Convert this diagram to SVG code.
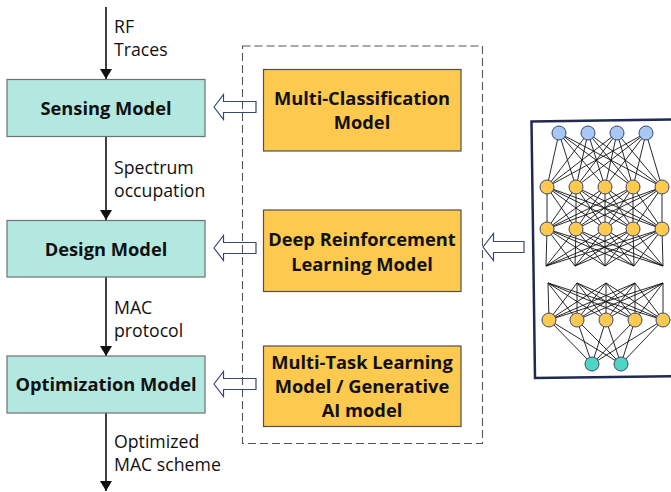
<svg xmlns="http://www.w3.org/2000/svg" width="671" height="492" viewBox="0 0 671 492">
<style>
text{font-family:"Open Sans","Noto Sans","Liberation Sans",sans-serif;fill:#111}
.lbl{font-size:17.7px}
.bold{font-size:18.3px;font-weight:bold}
.stage{fill:#B3E8E0;stroke:#707070;stroke-width:1.2}
.ml{fill:#FDC94F;stroke:#505050;stroke-width:1.2}
.flow{stroke:#111;stroke-width:1.6;fill:none}
.blk{fill:#fff;stroke:#3A4674;stroke-width:1.2}
.net line{stroke:#111;stroke-width:0.9}
.in{fill:#A8C8F4;stroke:#3A4674;stroke-width:1}
.hid{fill:#FDC94F;stroke:#3A4674;stroke-width:1}
.out{fill:#4ED6C3;stroke:#3A4674;stroke-width:1}
</style>
<defs>
<marker id="ah" markerWidth="10" markerHeight="12" refX="10" refY="6" orient="auto" markerUnits="userSpaceOnUse">
<path d="M0,0 L10,6 L0,12 Z" fill="#111"/>
</marker>
</defs>

<g id="connectors">
<line class="flow" x1="106" y1="7" x2="106" y2="79" marker-end="url(#ah)"/>
<line class="flow" x1="106" y1="136" x2="106" y2="220" marker-end="url(#ah)"/>
<line class="flow" x1="106" y1="277" x2="106" y2="356" marker-end="url(#ah)"/>
<line class="flow" x1="106" y1="413" x2="106" y2="491" marker-end="url(#ah)"/>
<text class="lbl" x="114" y="33">RF</text>
<text class="lbl" x="114" y="56">Traces</text>
<text class="lbl" x="114" y="174">Spectrum</text>
<text class="lbl" x="114" y="197">occupation</text>
<text class="lbl" x="114" y="314">MAC</text>
<text class="lbl" x="114" y="337">protocol</text>
<text class="lbl" x="114" y="448">Optimized</text>
<text class="lbl" x="114" y="471">MAC scheme</text>
<path class="blk" d="M214,107 L223.5,94.5 L223.5,101.5 L256,101.5 L256,112.5 L223.5,112.5 L223.5,119.5 Z"/>
<path class="blk" d="M214,248 L223.5,235.5 L223.5,242.5 L256,242.5 L256,253.5 L223.5,253.5 L223.5,260.5 Z"/>
<path class="blk" d="M214,384 L223.5,371.5 L223.5,378.5 L256,378.5 L256,389.5 L223.5,389.5 L223.5,396.5 Z"/>
<path class="blk" d="M483,247 L493.5,233.5 L493.5,241.5 L524,241.5 L524,252.5 L493.5,252.5 L493.5,260.5 Z"/>
</g>

<g id="sensing-model">
<rect class="stage" x="7" y="79.5" width="198" height="57"/>
<text class="bold" x="106" y="115" text-anchor="middle">Sensing Model</text>
</g>
<g id="design-model">
<rect class="stage" x="7" y="220.5" width="198" height="56.5"/>
<text class="bold" x="106" y="255.5" text-anchor="middle">Design Model</text>
</g>
<g id="optimization-model">
<rect class="stage" x="7" y="356" width="198" height="57"/>
<text class="bold" x="106" y="391" text-anchor="middle">Optimization Model</text>
</g>

<g id="ml-models">
<rect x="242.5" y="46" width="240" height="397.5" fill="none" stroke="#555" stroke-width="1.1" stroke-dasharray="8,4"/>
</g>
<g id="multi-classification">
<rect class="ml" x="263.5" y="69.5" width="197.5" height="81.5"/>
<text class="bold" x="362" y="104.5" text-anchor="middle">Multi-Classification</text>
<text class="bold" x="362" y="128.5" text-anchor="middle">Model</text>
</g>
<g id="deep-rl">
<rect class="ml" x="263.5" y="210" width="197.5" height="81.5"/>
<text class="bold" x="362" y="245.5" text-anchor="middle">Deep Reinforcement</text>
<text class="bold" x="362" y="270.5" text-anchor="middle">Learning Model</text>
</g>
<g id="multi-task">
<rect class="ml" x="263.5" y="346" width="197.5" height="80.5"/>
<text class="bold" x="362" y="368.5" text-anchor="middle">Multi-Task Learning</text>
<text class="bold" x="362" y="393" text-anchor="middle">Model / Generative</text>
<text class="bold" x="362" y="417" text-anchor="middle">AI model</text>
</g>

<g id="neural-net" class="net">
<polygon points="531.5,121.5 680,119.5 684,376 535,378" fill="#fff" stroke="#1E2A52" stroke-width="2.5"/>
<g>
<line x1="559" y1="133" x2="547" y2="187"/><line x1="559" y1="133" x2="576" y2="187"/><line x1="559" y1="133" x2="605" y2="187"/><line x1="559" y1="133" x2="633" y2="187"/><line x1="559" y1="133" x2="662" y2="187"/>
<line x1="588" y1="133" x2="547" y2="187"/><line x1="588" y1="133" x2="576" y2="187"/><line x1="588" y1="133" x2="605" y2="187"/><line x1="588" y1="133" x2="633" y2="187"/><line x1="588" y1="133" x2="662" y2="187"/>
<line x1="617" y1="133" x2="547" y2="187"/><line x1="617" y1="133" x2="576" y2="187"/><line x1="617" y1="133" x2="605" y2="187"/><line x1="617" y1="133" x2="633" y2="187"/><line x1="617" y1="133" x2="662" y2="187"/>
<line x1="646" y1="133" x2="547" y2="187"/><line x1="646" y1="133" x2="576" y2="187"/><line x1="646" y1="133" x2="605" y2="187"/><line x1="646" y1="133" x2="633" y2="187"/><line x1="646" y1="133" x2="662" y2="187"/>
</g>
<g>
<line x1="547" y1="187" x2="547" y2="229"/><line x1="547" y1="187" x2="576" y2="229"/><line x1="547" y1="187" x2="605" y2="229"/><line x1="547" y1="187" x2="633" y2="229"/><line x1="547" y1="187" x2="662" y2="229"/>
<line x1="576" y1="187" x2="547" y2="229"/><line x1="576" y1="187" x2="576" y2="229"/><line x1="576" y1="187" x2="605" y2="229"/><line x1="576" y1="187" x2="633" y2="229"/><line x1="576" y1="187" x2="662" y2="229"/>
<line x1="605" y1="187" x2="547" y2="229"/><line x1="605" y1="187" x2="576" y2="229"/><line x1="605" y1="187" x2="605" y2="229"/><line x1="605" y1="187" x2="633" y2="229"/><line x1="605" y1="187" x2="662" y2="229"/>
<line x1="633" y1="187" x2="547" y2="229"/><line x1="633" y1="187" x2="576" y2="229"/><line x1="633" y1="187" x2="605" y2="229"/><line x1="633" y1="187" x2="633" y2="229"/><line x1="633" y1="187" x2="662" y2="229"/>
<line x1="662" y1="187" x2="547" y2="229"/><line x1="662" y1="187" x2="576" y2="229"/><line x1="662" y1="187" x2="605" y2="229"/><line x1="662" y1="187" x2="633" y2="229"/><line x1="662" y1="187" x2="662" y2="229"/>
</g>
<g>
<line x1="547" y1="229" x2="546" y2="266"/><line x1="547" y1="229" x2="575" y2="266"/><line x1="547" y1="229" x2="605" y2="266"/><line x1="547" y1="229" x2="634" y2="266"/><line x1="547" y1="229" x2="663" y2="266"/>
<line x1="576" y1="229" x2="546" y2="266"/><line x1="576" y1="229" x2="575" y2="266"/><line x1="576" y1="229" x2="605" y2="266"/><line x1="576" y1="229" x2="634" y2="266"/><line x1="576" y1="229" x2="663" y2="266"/>
<line x1="605" y1="229" x2="546" y2="266"/><line x1="605" y1="229" x2="575" y2="266"/><line x1="605" y1="229" x2="605" y2="266"/><line x1="605" y1="229" x2="634" y2="266"/><line x1="605" y1="229" x2="663" y2="266"/>
<line x1="633" y1="229" x2="546" y2="266"/><line x1="633" y1="229" x2="575" y2="266"/><line x1="633" y1="229" x2="605" y2="266"/><line x1="633" y1="229" x2="634" y2="266"/><line x1="633" y1="229" x2="663" y2="266"/>
<line x1="662" y1="229" x2="546" y2="266"/><line x1="662" y1="229" x2="575" y2="266"/><line x1="662" y1="229" x2="605" y2="266"/><line x1="662" y1="229" x2="634" y2="266"/><line x1="662" y1="229" x2="663" y2="266"/>
</g>
<g>
<line x1="548" y1="283" x2="549" y2="320"/><line x1="548" y1="283" x2="577" y2="320"/><line x1="548" y1="283" x2="606" y2="320"/><line x1="548" y1="283" x2="635" y2="320"/><line x1="548" y1="283" x2="663" y2="320"/>
<line x1="577" y1="283" x2="549" y2="320"/><line x1="577" y1="283" x2="577" y2="320"/><line x1="577" y1="283" x2="606" y2="320"/><line x1="577" y1="283" x2="635" y2="320"/><line x1="577" y1="283" x2="663" y2="320"/>
<line x1="606" y1="283" x2="549" y2="320"/><line x1="606" y1="283" x2="577" y2="320"/><line x1="606" y1="283" x2="606" y2="320"/><line x1="606" y1="283" x2="635" y2="320"/><line x1="606" y1="283" x2="663" y2="320"/>
<line x1="635" y1="283" x2="549" y2="320"/><line x1="635" y1="283" x2="577" y2="320"/><line x1="635" y1="283" x2="606" y2="320"/><line x1="635" y1="283" x2="635" y2="320"/><line x1="635" y1="283" x2="663" y2="320"/>
<line x1="663" y1="283" x2="549" y2="320"/><line x1="663" y1="283" x2="577" y2="320"/><line x1="663" y1="283" x2="606" y2="320"/><line x1="663" y1="283" x2="635" y2="320"/><line x1="663" y1="283" x2="663" y2="320"/>
</g>
<g>
<line x1="549" y1="320" x2="592" y2="364"/><line x1="549" y1="320" x2="621" y2="364"/>
<line x1="577" y1="320" x2="592" y2="364"/><line x1="577" y1="320" x2="621" y2="364"/>
<line x1="606" y1="320" x2="592" y2="364"/><line x1="606" y1="320" x2="621" y2="364"/>
<line x1="635" y1="320" x2="592" y2="364"/><line x1="635" y1="320" x2="621" y2="364"/>
<line x1="663" y1="320" x2="592" y2="364"/><line x1="663" y1="320" x2="621" y2="364"/>
</g>
<circle class="in" cx="559" cy="133" r="7"/><circle class="in" cx="588" cy="133" r="7"/><circle class="in" cx="617" cy="133" r="7"/><circle class="in" cx="646" cy="133" r="7"/>
<circle class="hid" cx="547" cy="187" r="7"/><circle class="hid" cx="576" cy="187" r="7"/><circle class="hid" cx="605" cy="187" r="7"/><circle class="hid" cx="633" cy="187" r="7"/><circle class="hid" cx="662" cy="187" r="7"/>
<circle class="hid" cx="547" cy="229" r="7"/><circle class="hid" cx="576" cy="229" r="7"/><circle class="hid" cx="605" cy="229" r="7"/><circle class="hid" cx="633" cy="229" r="7"/><circle class="hid" cx="662" cy="229" r="7"/>
<circle class="hid" cx="549" cy="320" r="7"/><circle class="hid" cx="577" cy="320" r="7"/><circle class="hid" cx="606" cy="320" r="7"/><circle class="hid" cx="635" cy="320" r="7"/><circle class="hid" cx="663" cy="320" r="7"/>
<circle class="out" cx="592" cy="364" r="7"/><circle class="out" cx="621" cy="364" r="7"/>
</g>
</svg>
